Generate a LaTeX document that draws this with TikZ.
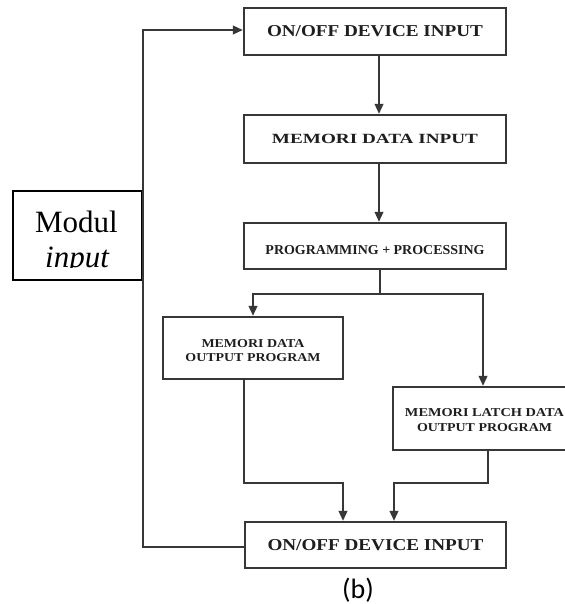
\documentclass[tikz,border=0pt]{standalone}
\usepackage{fontspec}
\setmainfont{Liberation Serif}
\newfontfamily\capfont{Carlito}
\usetikzlibrary{arrows.meta}
\definecolor{linegray}{RGB}{55,55,55}
\definecolor{textgray}{RGB}{30,30,30}
% bold capitals squeezed into a given width and cap height
\newcommand\fitcaps[3]{\resizebox{#1pt}{#2pt}{\bfseries #3}}

\begin{document}
\begin{tikzpicture}[x=1pt,y=-1pt,
  flowbox/.style={draw=linegray, line width=2.2pt, rectangle, inner sep=0pt, text=textgray},
  flow/.style={draw=linegray, line width=2.2pt, -{Triangle[length=10pt,width=8.5pt]}},
  plain/.style={draw=linegray, line width=2.2pt}]

\useasboundingbox[fill=white] (0,0) rectangle (564,604);

% main chain of blocks
\node[flowbox, minimum width=262pt, minimum height=47pt] (in1) at (375,31.5)
  {\fitcaps{216}{11}{ON/OFF DEVICE INPUT}};
\node[flowbox, minimum width=262pt, minimum height=48pt] (mem) at (375,139)
  {\fitcaps{206}{9.3}{MEMORI DATA INPUT}};
\node[flowbox, minimum width=262pt, minimum height=46pt] (proc) at (375,246)
  {\rule{0pt}{17pt}\fitcaps{219}{9}{PROGRAMMING + PROCESSING}};
\node[flowbox, minimum width=180pt, minimum height=62pt, align=center,
      font=\fontsize{8}{14}\selectfont] (outl) at (253,348)
  {\rule{0pt}{14pt}\fitcaps{103}{8}{MEMORI DATA}\\\fitcaps{135}{8}{OUTPUT PROGRAM}};
\node[flowbox, minimum width=183pt, minimum height=63pt, align=center,
      font=\fontsize{8}{15}\selectfont] (outr) at (484.5,418.5)
  {\rule{0pt}{12pt}\fitcaps{159}{8}{MEMORI LATCH DATA}\\\fitcaps{135}{8}{OUTPUT PROGRAM}};
\node[flowbox, minimum width=261pt, minimum height=46pt] (in2) at (375.5,545)
  {\fitcaps{216}{11}{ON/OFF DEVICE INPUT}};

% side label box, its text cut at the lower line
\node[draw=black, line width=1.6pt, minimum width=129pt, minimum height=89pt] (modul) at (77.5,235.5) {};
\begin{scope}
  \clip (13,191) rectangle (142,267.5);
  \node[anchor=base, font=\fontsize{31}{35}\selectfont, inner sep=0pt] (modtxt) at (76.5,232) {Modul};
  \node[anchor=base, font=\fontsize{31}{35}\selectfont\itshape, inner sep=0pt] (inptxt) at (77,267) {input};
\end{scope}

% connectors
\draw[flow] ([xshift=4pt]in1.south) -- ([xshift=4pt]mem.north);
\draw[flow] ([xshift=4pt]mem.south) -- ([xshift=4pt]proc.north);
\draw[plain] ([xshift=5pt]proc.south) -- ++(0,24) coordinate (split);
\draw[flow] (split) -| (outl.north);
\draw[flow] (split) -| ([xshift=-1.5pt]outr.north);
\draw[flow] ([xshift=-9pt]outl.south) -- ++(0,103) -| ([xshift=-32.5pt]in2.north);
\draw[flow] ([xshift=3.5pt]outr.south) -- ++(0,32) -| ([xshift=18.5pt]in2.north);
\draw[flow] ([yshift=-2pt]in2.west) -- ([yshift=-2pt]in2.west -| modul.east)
  |- ([yshift=1.5pt]in1.west);

% caption
\node[font=\capfont\fontsize{28}{30}\selectfont] (cap) at (358,590) {(b)};
\end{tikzpicture}
\end{document}
